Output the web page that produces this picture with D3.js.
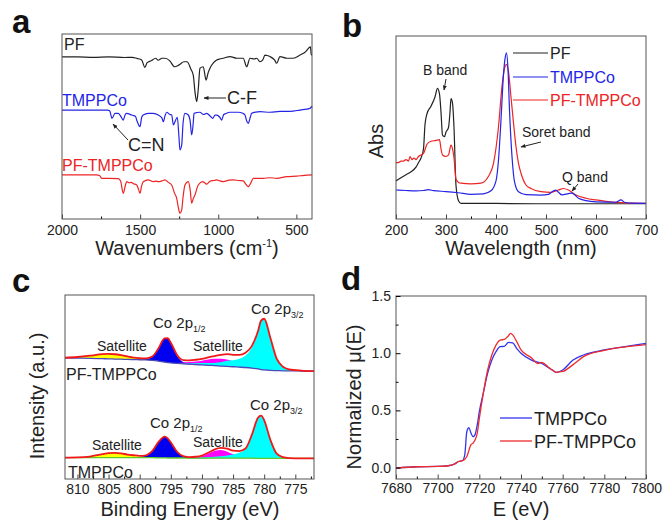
<!DOCTYPE html>
<html>
<head>
<meta charset="utf-8">
<script src="https://cdn.jsdelivr.net/npm/d3@7"></script>
<style>
body { margin: 0; background: #fff; }
text { font-family: "Liberation Sans", Arial, sans-serif; fill: #222; }
</style>
</head>
<body>
<div id="fig"></div>
<script>
// ---- panel a: FTIR (wavenumber, transmittance, stacked) ----
var pfIR = [[2000,87.6],[1900,87.6],[1800,87.4],[1700,87.6],[1600,87.3],[1550,87.4],[1520,86.8],[1490,86],[1470,82],[1455,84.5],[1430,85.5],[1400,86.9],[1385,85.8],[1360,86.9],[1340,86.9],[1310,85.5],[1280,82.3],[1260,82.8],[1245,83.6],[1220,85],[1200,85],[1175,81],[1160,77.8],[1148,68],[1138,63.4],[1128,70],[1117,81.5],[1096,82.3],[1078,75.1],[1065,79],[1053,81.5],[1030,84.5],[1010,85.9],[990,86.5],[968,86.9],[925,87.8],[882,86.9],[840,86.9],[818,82.3],[797,86.9],[770,86.5],[754,86.9],[733,85],[715,86],[701,88.6],[669,87.8],[640,86],[626,84.2],[605,87.8],[562,86.9],[520,86.9],[477,88.6],[440,90.5],[420,92.5],[410,93.1],[405,89],[400,88.6]];
var tmppcoIR = [[2000,58.9],[1800,58.9],[1710,58.9],[1695,58.5],[1680,54.4],[1661,57.1],[1640,57.1],[1620,55],[1608,53.5],[1595,56.5],[1586,57.1],[1554,56.2],[1530,55.5],[1522,53.5],[1501,49.9],[1490,55],[1480,56.2],[1448,57.1],[1416,57.1],[1384,56.2],[1360,54.5],[1352,52.6],[1340,56],[1330,57.7],[1310,56.5],[1298,56.2],[1287,50.8],[1277,52.6],[1262,55],[1252,45],[1245,37.3],[1234,40],[1225,52],[1213,57.1],[1192,56.2],[1180,53],[1170,45.4],[1160,52],[1155,57.1],[1117,57.7],[1095,56.5],[1074,57.1],[1050,55.5],[1036,54.4],[1020,56.2],[1010,56.2],[990,55],[978,53.5],[965,56.5],[957,56.8],[925,57.7],[872,57.7],[840,57],[829,56.2],[818,53],[808,51.7],[795,55],[786,57.1],[760,57.8],[733,58],[669,57.7],[605,58.2],[541,58.2],[477,58.9],[413,59.8],[403,60.7],[400,60.2]];
var pftIR = [[2000,23.8],[1780,23.8],[1760,23.5],[1746,22],[1700,22],[1640,21.8],[1625,20.5],[1608,13.9],[1595,18],[1586,20.2],[1570,19.6],[1558,19.8],[1540,19],[1522,18.4],[1510,16],[1501,13.9],[1490,18],[1480,20.2],[1448,21.1],[1430,20.6],[1416,20.2],[1400,20.5],[1384,20.2],[1360,20.6],[1341,21.1],[1320,19.8],[1298,18.4],[1280,14],[1266,11.2],[1255,6],[1245,3.1],[1234,4.9],[1225,12],[1213,18.4],[1192,20.2],[1180,16],[1170,8.5],[1160,11],[1149,13],[1128,18.4],[1100,20.2],[1085,19.5],[1074,18.8],[1053,20.4],[1030,20.8],[1010,21.1],[990,20.6],[968,20.2],[930,21],[904,21.1],[870,20.8],[840,20.6],[825,19],[808,17.5],[790,19.8],[776,22],[740,22],[712,22],[670,22.3],[626,22],[562,22.9],[498,23.2],[450,23.6],[400,23.8]];
var irMajor = [2000, 1500, 1000, 500];
var irMinor = [1750, 1250, 750];

// ---- panel b: UV-vis (nm, Abs) ----
var pfUV = [[200,0.15],[210,0.17],[220,0.19],[230,0.21],[240,0.24],[245,0.27],[250,0.30],[255,0.36],[258,0.52],[262,0.59],[270,0.64],[278,0.70],[283,0.757],[287,0.72],[290,0.6],[293,0.45],[297,0.44],[300,0.47],[305,0.5],[308,0.6],[310,0.69],[313,0.66],[316,0.5],[320,0.12],[325,0.02],[330,0.003],[400,0.002],[500,0],[700,0]];
var tmppcoUV = [[200,0.09],[220,0.087],[240,0.085],[255,0.087],[265,0.092],[275,0.086],[300,0.08],[325,0.072],[350,0.062],[375,0.065],[390,0.085],[400,0.15],[405,0.287],[410,0.55],[415,0.85],[418,0.95],[421,0.99],[424,0.88],[427,0.615],[432,0.31],[437,0.145],[445,0.079],[460,0.06],[490,0.057],[505,0.062],[513,0.08],[520,0.09],[525,0.075],[532,0.058],[545,0.067],[552,0.07],[565,0.036],[580,0.02],[600,0.012],[640,0.01],[650,0.025],[657,0.01],[670,0.004],[700,0.003]];
var pftUV = [[200,0.27],[205,0.27],[210,0.28],[215,0.28],[220,0.29],[225,0.28],[228,0.31],[232,0.29],[236,0.3],[240,0.29],[245,0.31],[250,0.32],[255,0.33],[262,0.39],[270,0.41],[280,0.415],[287,0.42],[290,0.36],[293,0.32],[300,0.31],[305,0.32],[310,0.385],[313,0.36],[316,0.3],[320,0.16],[325,0.14],[330,0.135],[350,0.13],[370,0.135],[385,0.18],[395,0.265],[405,0.505],[412,0.77],[418,0.9],[421,0.914],[425,0.866],[430,0.7],[435,0.53],[440,0.374],[445,0.265],[450,0.2],[460,0.123],[470,0.1],[490,0.079],[510,0.074],[525,0.09],[535,0.1],[545,0.09],[560,0.057],[580,0.036],[600,0.025],[620,0.016],[650,0.008],[700,0.003]];
var uvMajor = [200, 300, 400, 500, 600, 700];
var uvMinor = [250, 350, 450, 550, 650];

// ---- panel c: Co 2p XPS, fitted components on a common energy grid ----
var xpsE = [812,810,808,806,805,804,803,802,801,800,799,798,797,796,795.5,795,794,793,792,791,790,789,788,787,786,785,784,783,782,781,780.5,780,779,778,777,776,774,772];
var pftBg  = [65.8,65.7,65.6,65.4,65.3,65.2,65.1,65.0,64.9,64.8,64.7,64.5,64.1,63.5,63.3,63.1,62.8,62.6,62.4,62.2,62.0,61.8,61.6,61.4,61.2,61.0,60.8,60.6,60.3,59.8,59.5,59.3,59.0,58.9,58.8,58.8,58.7,58.6];
var pftSat1 = [0.1,0.6,1.4,2.5,2.7,2.6,2.2,1.6,1.1,0.7,0.4,0.2,0.1,0,0,0,0,0,0,0,0,0,0,0,0,0,0,0,0,0,0,0,0,0,0,0,0,0];
var pftP12  = [0,0,0,0,0,0,0,0,0,0.2,0.5,1.8,6.7,12.9,13.2,11,4.1,1,0.4,0.2,0,0,0,0,0,0,0,0,0,0,0,0,0,0,0,0,0,0];
var pftSat2 = [0,0,0,0,0,0,0,0,0,0,0,0,0,0,0,0,0.3,0.7,1.2,1.7,2.3,3.1,3.7,4,3.7,3,2.2,1.5,0.9,0.5,0.3,0.2,0.1,0,0,0,0,0];
var pftP32  = [0,0,0,0,0,0,0,0,0,0,0,0,0,0,0,0,0.2,0.3,0.5,0.7,1,1.2,1.5,2,3,3.5,4.5,6.5,11,20,26.3,27.6,17.5,6.5,2.2,0.8,0.2,0];
var tmpBg  = [11.6,11.6,11.6,11.6,11.6,11.6,11.6,11.6,11.6,11.6,11.6,11.6,11.5,11.5,11.4,11.4,11.4,11.4,11.3,11.3,11.3,11.3,11.3,11.3,11.3,11.3,11.3,11.3,11.3,11.2,11.2,11.2,11.2,11.2,11.2,11.2,11.2,11.2];
var tmpSat1 = [0,0.1,0.6,1.9,2.45,2.6,2.3,1.7,1.1,0.6,0.3,0.1,0,0,0,0,0,0,0,0,0,0,0,0,0,0,0,0,0,0,0,0,0,0,0,0,0,0];
var tmpP12  = [0,0,0,0,0,0,0,0,0.2,0.4,1,3.4,8.5,11.5,10.7,8.5,3.4,1,0.4,0.2,0,0,0,0,0,0,0,0,0,0,0,0,0,0,0,0,0,0];
var tmpSat2 = [0,0,0,0,0,0,0,0,0,0,0,0,0,0,0,0,0,0,0,0.3,1.05,2.4,3.9,4.5,3.7,2.1,0.85,0.25,0.05,0,0,0,0,0,0,0,0,0];
var tmpP32  = [0,0,0,0,0,0,0,0,0,0,0,0,0,0,0,0,0,0,0.2,0.3,0.4,0.6,0.8,1.1,1.5,2,3,5,12.5,22.1,23.2,20.7,10,2.6,0.7,0.2,0,0];
var xpsMajor = [810, 805, 800, 795, 790, 785, 780, 775];
var xpsMinor = [807.5, 802.5, 797.5, 792.5, 787.5, 782.5, 777.5, 772.5];

// ---- panel d: Co K-edge XANES ----
var tmppcoXAS = [[7680,-0.005],[7690,0.007],[7700,0.01],[7705,0.016],[7708,0.03],[7710,0.053],[7712,0.062],[7713,0.11],[7714,0.315],[7715,0.35],[7716,0.3],[7717,0.27],[7718,0.29],[7719,0.373],[7720,0.49],[7722,0.66],[7724,0.825],[7726,0.94],[7728,1.013],[7730,1.057],[7732,1.06],[7734,1.095],[7736,1.09],[7738,1.04],[7740,1.0],[7745,0.94],[7750,0.91],[7755,0.853],[7757,0.833],[7760,0.853],[7765,0.94],[7770,0.984],[7780,1.028],[7790,1.057],[7800,1.086]];
var pftXAS = [[7680,-0.005],[7690,0.007],[7700,0.01],[7705,0.016],[7708,0.03],[7710,0.053],[7712,0.06],[7714,0.097],[7716,0.2],[7717,0.214],[7718,0.243],[7719,0.3],[7720,0.43],[7722,0.66],[7724,0.853],[7726,0.984],[7728,1.07],[7730,1.115],[7732,1.12],[7734,1.153],[7735,1.174],[7736,1.16],[7738,1.1],[7740,1.028],[7745,0.96],[7748,0.91],[7750,0.92],[7753,0.88],[7755,0.853],[7757,0.833],[7760,0.84],[7765,0.9],[7770,0.97],[7780,1.025],[7790,1.055],[7800,1.075]];
var xasMajor = [7680, 7700, 7720, 7740, 7760, 7780, 7800];
var xasMinor = [7690, 7710, 7730, 7750, 7770, 7790];
var xasYMajor = [0, 0.5, 1.0, 1.5];
var xasYMinor = [0.25, 0.75, 1.25];

var BLACK = "#222", BLUE = "#2424e6", RED = "#ec2424";

var svg = d3.select("#fig").append("svg")
    .attr("width", 664)
    .attr("height", 521);

svg.append("defs").append("marker")
    .attr("id", "arr")
    .attr("viewBox", "0 0 10 10")
    .attr("refX", 9).attr("refY", 5)
    .attr("markerWidth", 5).attr("markerHeight", 5)
    .attr("orient", "auto")
  .append("path")
    .attr("d", "M0,1L10,5L0,9Z")
    .attr("fill", "#222");

// box + inward ticks on the bottom edge
function frame(x, y, major, minor, fmt, pad) {
  var y0 = y.range()[0];
  svg.append("g")
      .attr("transform", "translate(0," + y0 + ")")
      .call(d3.axisBottom(x).tickValues(minor).tickSize(-2.5).tickFormat(""))
      .call(function(g){ g.select(".domain").remove(); });
  var ax = svg.append("g")
      .attr("transform", "translate(0," + y0 + ")")
      .call(d3.axisBottom(x).tickValues(major).tickSize(-4.5).tickPadding(pad || 6).tickFormat(fmt || d3.format("d")));
  ax.select(".domain").remove();
  ax.selectAll("line").attr("stroke", "#444");
  ax.selectAll("text").style("font-size", "14px").style("fill", "#222");
  svg.append("rect")
      .attr("x", x.range()[0])
      .attr("y", y.range()[1])
      .attr("width", Math.abs(x.range()[1] - x.range()[0]))
      .attr("height", y.range()[0] - y.range()[1])
      .attr("fill", "none")
      .attr("stroke", "#555")
      .attr("stroke-width", 1);
}

function plotLine(data, x, y, color, w) {
  svg.append("path")
      .datum(data)
      .attr("fill", "none")
      .attr("stroke", color)
      .attr("stroke-width", w || 1.2)
      .attr("d", d3.line()
          .x(function(d){ return x(d[0]); })
          .y(function(d){ return y(d[1]); })
          .curve(d3.curveMonotoneX));
}

function label(txt, x, y, size, color, anchor) {
  return svg.append("text")
      .attr("x", x).attr("y", y)
      .attr("text-anchor", anchor || "start")
      .style("font-size", size + "px")
      .style("fill", color || BLACK)
      .text(txt);
}

function arrow(x1, y1, x2, y2) {
  svg.append("line")
      .attr("x1", x1).attr("y1", y1).attr("x2", x2).attr("y2", y2)
      .attr("stroke", "#222").attr("stroke-width", 1)
      .attr("marker-end", "url(#arr)");
}

function panelLetter(t, x, y) {
  svg.append("text").attr("x", x).attr("y", y)
      .style("font-size", "33px").style("font-weight", "bold").style("fill", "#111")
      .text(t);
}

// ================= panel a =================
var xa = d3.scaleLinear().domain([2000, 400]).range([62, 312]);
var ya = d3.scaleLinear().domain([0, 100]).range([219, 34]);
plotLine(pfIR, xa, ya, BLACK);
plotLine(tmppcoIR, xa, ya, BLUE);
plotLine(pftIR, xa, ya, RED);
frame(xa, ya, irMajor, irMinor);
label("PF", 64, 50, 16, BLACK);
label("TMPPCo", 62, 106, 16, BLUE);
label("PF-TMPPCo", 62, 171, 16, RED);
label("C-F", 227, 104, 18);
arrow(226, 98, 204, 98);
label("C=N", 128, 151, 18);
arrow(128, 140, 113, 124);
var ta = svg.append("text").attr("x", 187).attr("y", 255).attr("text-anchor", "middle").style("font-size", "20px");
ta.append("tspan").text("Wavenumbers (cm");
ta.append("tspan").attr("dy", -8).style("font-size", "11px").text("-1");
ta.append("tspan").attr("dy", 8).text(")");
panelLetter("a", 12, 33);

// ================= panel b =================
var xb = d3.scaleLinear().domain([200, 700]).range([396, 646]);
var yb = d3.scaleLinear().domain([-0.1, 1.1]).range([219, 36]);
plotLine(pfUV, xb, yb, BLACK);
plotLine(pftUV, xb, yb, RED);
plotLine(tmppcoUV, xb, yb, BLUE);
frame(xb, yb, uvMajor, uvMinor);
[["PF", BLACK, 53], ["TMPPCo", BLUE, 77], ["PF-TMPPCo", RED, 100]].forEach(function(s){
  svg.append("line").attr("x1", 513).attr("x2", 548).attr("y1", s[2]).attr("y2", s[2])
      .attr("stroke", s[1]).attr("stroke-width", 1.2);
  label(s[0], 550, s[2] + 6, 16, s[1]);
});
label("B band", 423, 75, 14);
arrow(446, 79, 444, 90);
label("Soret band", 522, 137, 14);
arrow(541, 142, 521, 147);
label("Q band", 562, 182, 14);
arrow(578, 184, 572, 191);
label("Wavelength (nm)", 521, 255, 20, BLACK, "middle");
svg.append("text").attr("transform", "translate(383,141) rotate(-90)")
    .attr("text-anchor", "middle").style("font-size", "20px").text("Abs");
panelLetter("b", 342, 37);

// ================= panel c =================
var xc = d3.scaleLinear().domain([812, 772]).range([65, 314]);
var yc = d3.scaleLinear().domain([0, 100]).range([479, 295]);

function xpsStack(bg, comps, colors, bgColor) {
  comps.forEach(function(c, k){
    svg.append("path")
        .datum(xpsE.map(function(e, i){ return [e, bg[i], bg[i] + c[i]]; }))
        .attr("fill", colors[k])
        .attr("d", d3.area()
            .x(function(d){ return xc(d[0]); })
            .y0(function(d){ return yc(d[1]); })
            .y1(function(d){ return yc(d[2]); })
            .curve(d3.curveMonotoneX));
  });
  plotLine(xpsE.map(function(e, i){ return [e, bg[i]]; }), xc, yc, bgColor, 1.3);
  var env = xpsE.map(function(e, i){
    var s = bg[i];
    comps.forEach(function(c){ s += c[i]; });
    return [e, s];
  });
  plotLine(env, xc, yc, "#f01818", 1.8);
}
var compColors = ["#ffff00", "#0000f0", "#ff00ff", "#00ffff"];
xpsStack(pftBg, [pftSat1, pftP12, pftSat2, pftP32], compColors, "#4a4ab8");
xpsStack(tmpBg, [tmpSat1, tmpP12, tmpSat2, tmpP32], compColors, "#5ccc2a");
frame(xc, yc, xpsMajor, xpsMinor, null, 5);

function coLabel(x, y, sub) {
  var t = svg.append("text").attr("x", x).attr("y", y).style("font-size", "15px");
  t.append("tspan").text("Co 2p");
  t.append("tspan").attr("dy", 4).style("font-size", "9px").text(sub);
}
coLabel(153, 328, "1/2");
coLabel(251, 314, "3/2");
label("Satellite", 97, 351, 14);
label("Satellite", 193, 351, 14);
label("PF-TMPPCo", 66, 380, 16);
coLabel(150, 428, "1/2");
coLabel(250, 410, "3/2");
label("Satellite", 92, 450, 14);
label("Satellite", 193, 447, 14);
label("TMPPCo", 68, 478, 16);
label("Binding Energy (eV)", 190, 516, 20, BLACK, "middle");
svg.append("text").attr("transform", "translate(44,396) rotate(-90)")
    .attr("text-anchor", "middle").style("font-size", "20px").text("Intensity (a.u.)");
panelLetter("c", 12, 292);

// ================= panel d =================
var xd = d3.scaleLinear().domain([7680, 7800]).range([396, 646]);
var yd = d3.scaleLinear().domain([-0.1, 1.5]).range([479, 296]);
plotLine(tmppcoXAS, xd, yd, "#3434ee", 1.3);
plotLine(pftXAS, xd, yd, "#ee2a2a", 1.3);
frame(xd, yd, xasMajor, xasMinor, null, 4);
svg.append("g").attr("transform", "translate(396,0)")
    .call(d3.axisLeft(yd).tickValues(xasYMinor).tickSize(-2.5).tickFormat(""))
    .call(function(g){ g.select(".domain").remove(); });
var yax = svg.append("g").attr("transform", "translate(396,0)")
    .call(d3.axisLeft(yd).tickValues(xasYMajor).tickSize(-4.5).tickPadding(5).tickFormat(d3.format(".1f")));
yax.select(".domain").remove();
yax.selectAll("text").style("font-size", "14px").style("fill", "#222");
[["TMPPCo", "#3434ee", 418], ["PF-TMPPCo", "#ee2a2a", 441]].forEach(function(s){
  svg.append("line").attr("x1", 500).attr("x2", 532).attr("y1", s[2]).attr("y2", s[2])
      .attr("stroke", s[1]).attr("stroke-width", 1.3);
  label(s[0], 534, s[2] + 6.5, 18);
});
label("E (eV)", 521, 516, 20, BLACK, "middle");
svg.append("text").attr("transform", "translate(361,397) rotate(-90)")
    .attr("text-anchor", "middle").style("font-size", "20px").text("Normalized  \u03bc(E)");
panelLetter("d", 341, 290);
</script>
</body>
</html>
